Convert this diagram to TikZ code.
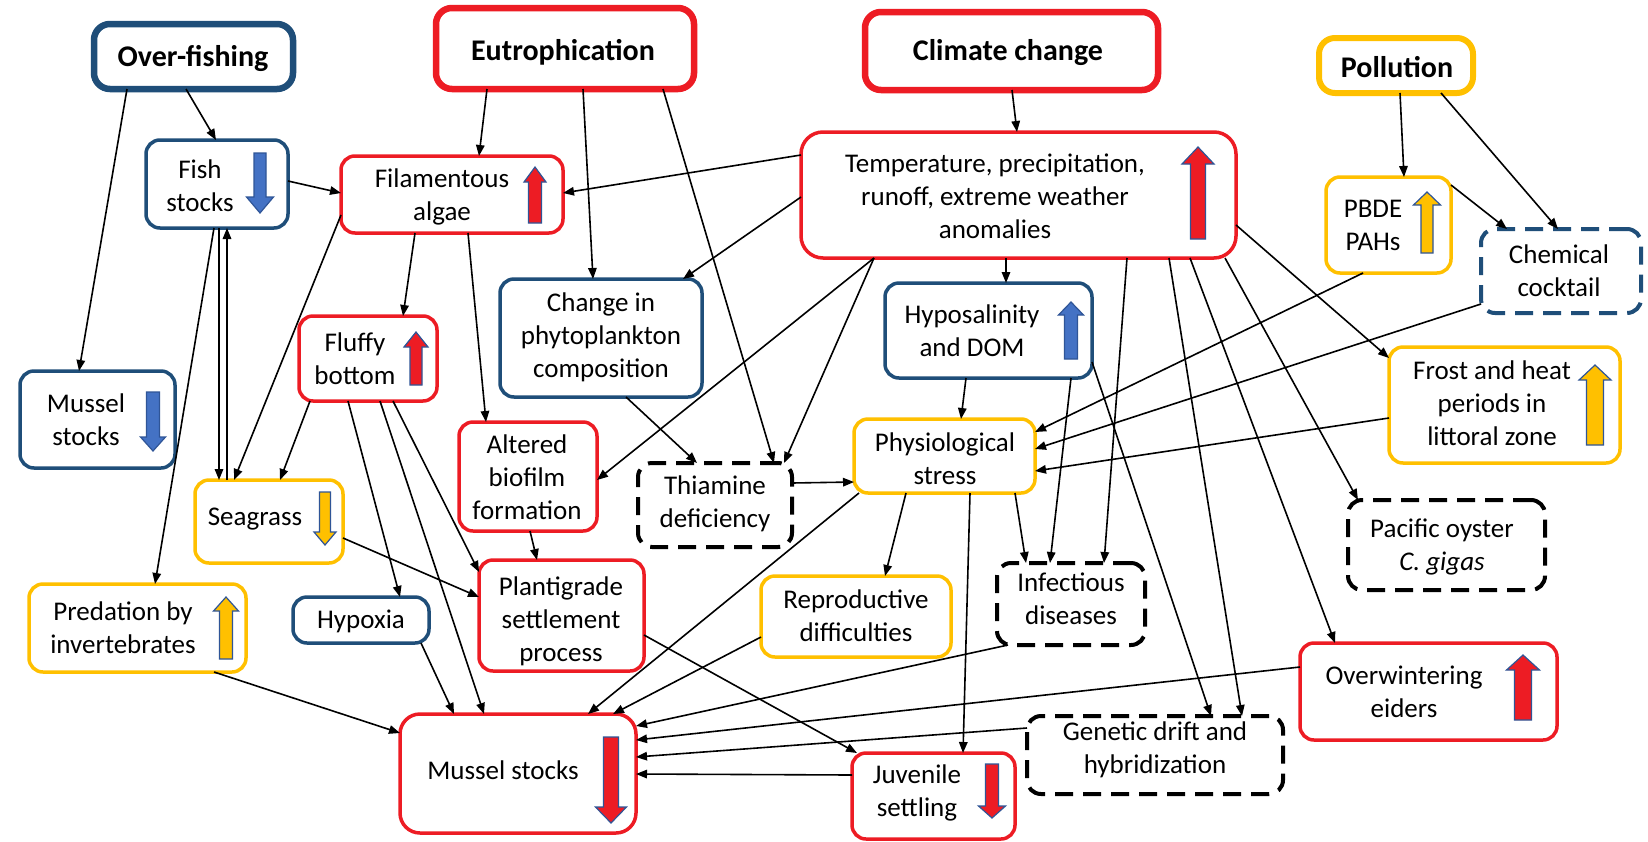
\documentclass[tikz,border=0pt]{standalone}
\usepackage{fontspec}
\setmainfont{Carlito}
\usetikzlibrary{arrows.meta}
\definecolor{ofblue}{RGB}{31,78,121}
\definecolor{ofred}{RGB}{237,28,36}
\definecolor{ofyellow}{RGB}{255,192,0}
\definecolor{arrblue}{RGB}{68,114,196}
\definecolor{arrline}{RGB}{47,85,151}
\tikzset{
 box/.style={rectangle, rounded corners=14pt, line width=3.5pt, inner sep=0pt, outer sep=0pt, fill=white},
 hdr/.style={line width=6.5pt, rounded corners=16pt},
 bluebox/.style={box, draw=ofblue},
 redbox/.style={box, draw=ofred},
 yelbox/.style={box, draw=ofyellow},
 dashbox/.style={box, draw=black, line width=4pt, dash pattern=on 18pt off 10pt},
 bdashbox/.style={box, draw=ofblue, line width=4pt, dash pattern=on 18pt off 10pt},
 txt/.style={align=center, font=\fontsize{27}{33}\selectfont, inner sep=0pt},
 htxt/.style={font=\fontsize{30}{36}\selectfont\bfseries, inner sep=0pt},
 conn/.style={-{Triangle[length=11pt,width=8.5pt]}, line width=1.6pt},
}
\newcommand{\mkbox}[6]{\node[#1, minimum width={#4-#2}, minimum height={#5-#3}] (#6) at ({(#2+#4)/2},{(#3+#5)/2}) {};}
\newcommand{\upArr}[7]{\filldraw[fill=#7,draw=arrline,line width=1.2pt] ({#1-#4},#3) -- ({#1-#4},{#2+#6}) -- ({#1-#5},{#2+#6}) -- (#1,#2) -- ({#1+#5},{#2+#6}) -- ({#1+#4},{#2+#6}) -- ({#1+#4},#3) -- cycle;}
\newcommand{\downArr}[7]{\filldraw[fill=#7,draw=arrline,line width=1.2pt] ({#1-#4},#2) -- ({#1-#4},{#3-#6}) -- ({#1-#5},{#3-#6}) -- (#1,#3) -- ({#1+#5},{#3-#6}) -- ({#1+#4},{#3-#6}) -- ({#1+#4},#2) -- cycle;}
\begin{document}
\begin{tikzpicture}[x=1pt,y=-1pt]
\useasboundingbox[fill=white] (0,0) rectangle (1648,841);
% boxes
\mkbox{bluebox,hdr}{94}{24}{293}{89}{OF}
\mkbox{redbox,hdr}{436}{8}{694}{89}{EU}
\mkbox{redbox,hdr}{865}{12}{1158}{90}{CC}
\mkbox{yelbox,hdr,line width=6pt}{1319}{38}{1473}{93}{PO}
\mkbox{bluebox}{146}{140}{288}{228}{FS}
\mkbox{redbox}{341}{156}{563}{233}{FA}
\mkbox{redbox,rounded corners=22pt}{801}{132}{1236}{258}{TP}
\mkbox{yelbox}{1326}{177}{1451}{273}{PB}
\mkbox{bdashbox}{1481}{229}{1641}{313}{CH}
\mkbox{bluebox}{500}{279}{702}{397}{CP}
\mkbox{bluebox}{885}{283}{1092}{378}{HD}
\mkbox{redbox}{299}{316}{437}{401}{FF}
\mkbox{bluebox}{20}{371}{175}{468}{MSa}
\mkbox{yelbox}{1389}{347}{1620}{463}{FH}
\mkbox{redbox}{459}{422}{597}{531}{AB}
\mkbox{dashbox}{638}{463}{792}{547}{TD}
\mkbox{yelbox}{854}{419}{1035}{493}{PS}
\mkbox{yelbox}{195}{480}{343}{563}{SG}
\mkbox{dashbox}{1348}{500}{1545}{590}{PO2}
\mkbox{yelbox}{29}{584}{246}{672}{PI}
\mkbox{bluebox}{293}{597}{429}{643}{HY}
\mkbox{redbox}{479}{560}{644}{671}{PL}
\mkbox{yelbox}{761}{576}{951}{657}{RD}
\mkbox{dashbox}{997}{563}{1145}{645}{ID}
\mkbox{redbox}{1300}{643}{1557}{740}{OE}
\mkbox{dashbox}{1027}{716}{1283}{794}{GD}
\mkbox{redbox,rounded corners=20pt}{400}{714}{636}{833}{MSb}
\mkbox{redbox}{852}{753}{1015}{839}{JS}
% connectors
\draw[conn] ([xshift=33pt]OF.south west) -- ([xshift=59pt]MSa.north west);
\draw[conn] ([xshift=92pt]OF.south west) -- ([xshift=70pt]FS.north west);
\draw[conn] ([yshift=-41pt]FS.north east) -- ([yshift=-37pt]FA.north west);
\draw[conn] ([xshift=68pt]FS.south west) -- ([xshift=126pt]PI.north west);
\draw[conn] ([xshift=73pt]FS.south west) -- ([xshift=24pt]SG.north west);
\draw[conn] ([xshift=32pt]SG.north west) -- ([xshift=81pt]FS.south west);
\draw[conn] ([yshift=-59pt]FA.north west) -- ([xshift=39pt]SG.north west);
\draw[conn] ([xshift=74pt]FA.south west) -- ([xshift=104pt]FF.north west);
\draw[conn] ([xshift=127pt]FA.south west) -- ([xshift=27pt]AB.north west);
\draw[conn] ([xshift=51pt]EU.south west) -- ([xshift=138pt]FA.north west);
\draw[conn] ([xshift=147pt]EU.south west) -- ([xshift=93pt]CP.north west);
\draw[conn] ([xshift=227pt]EU.south west) -- ([xshift=136pt]TD.north west);
\draw[conn] ([yshift=-23pt]TP.north west) -- ([yshift=-37pt]FA.north east);
\draw[conn] ([yshift=-65pt]TP.north west) -- ([xshift=183pt]CP.north west);
\draw[conn] ([xshift=147pt]CC.south west) -- ([xshift=216pt]TP.north west);
\draw[conn] ([xshift=205pt]TP.south west) -- ([xshift=121pt]HD.north west);
\draw[conn] ([xshift=73pt]TP.south west) -- ([yshift=-58pt]AB.north east);
\draw[conn] ([xshift=73pt]TP.south west) -- ([xshift=146pt]TD.north west);
\draw[conn] ([xshift=37pt]PB.south west) -- ([yshift=-13pt]PS.north east);
\draw[conn] ([yshift=-75pt]CH.north west) -- ([yshift=-30pt]PS.north east);
\draw[conn] ([yshift=-71pt]FH.north west) -- ([yshift=-52pt]PS.north east);
\draw[conn] ([xshift=81pt]HD.south west) -- ([xshift=107pt]PS.north west);
\draw[conn] ([xshift=186pt]HD.south west) -- ([xshift=53pt]ID.north west);
\draw[conn] ([yshift=-79pt]HD.north east) -- ([xshift=184pt]GD.north west);
\draw[conn] ([xshift=326pt]TP.south west) -- ([xshift=107pt]ID.north west);
\draw[conn] ([xshift=368pt]TP.south west) -- ([xshift=215pt]GD.north west);
\draw[conn] ([xshift=389pt]TP.south west) -- ([xshift=35pt]OE.north west);
\draw[conn] ([xshift=424pt]TP.south west) -- ([xshift=10pt]PO2.north west);
\draw[conn] ([yshift=-93pt]TP.north east) -- ([yshift=-11pt]FH.north west);
\draw[conn] ([xshift=126pt]CP.south west) -- ([xshift=59pt]TD.north west);
\draw[conn] ([yshift=-20pt]TD.north east) -- ([yshift=-63pt]PS.north west);
\draw[conn] ([xshift=5pt]PS.south west) -- ([xshift=188pt]MSb.north west);
\draw[conn] ([yshift=-61pt]RD.north west) -- ([xshift=213pt]MSb.north west);
\draw[conn] ([xshift=52pt]PS.south west) -- ([xshift=124pt]RD.north west);
\draw[conn] ([xshift=116pt]PS.south west) -- ([xshift=111pt]JS.north west);
\draw[conn] ([xshift=161pt]PS.south west) -- ([xshift=29pt]ID.north west);
\draw[conn] ([xshift=11pt]ID.south west) -- ([yshift=-12pt]MSb.north east);
\draw[conn] ([yshift=-24pt]OE.north west) -- ([yshift=-26pt]MSb.north east);
\draw[conn] ([yshift=-12pt]GD.north west) -- ([yshift=-43pt]MSb.north east);
\draw[conn] ([yshift=-22pt]JS.north west) -- ([yshift=-60pt]MSb.north east);
\draw[conn] ([yshift=-75pt]PL.north east) -- ([xshift=5pt]JS.north west);
\draw[conn] ([xshift=71pt]AB.south west) -- ([xshift=58pt]PL.north west);
\draw[conn] ([yshift=-58pt]SG.north east) -- ([yshift=-37pt]PL.north west);
\draw[conn] ([xshift=11pt]FF.south west) -- ([xshift=85pt]SG.north west);
\draw[conn] ([xshift=49pt]FF.south west) -- ([xshift=107pt]HY.north west);
\draw[conn] ([xshift=81pt]FF.south west) -- ([xshift=84pt]MSb.north west);
\draw[conn] ([xshift=94pt]FF.south west) -- ([yshift=-12pt]PL.north west);
\draw[conn] ([xshift=128pt]HY.south west) -- ([xshift=54pt]MSb.north west);
\draw[conn] ([xshift=185pt]PI.south west) -- ([yshift=-19pt]MSb.north west);
\draw[conn] ([xshift=81pt]PO.south west) -- ([xshift=78pt]PB.north west);
\draw[conn] ([xshift=122pt]PO.south west) -- ([xshift=77pt]CH.north west);
\draw[conn] ([yshift=-8pt]PB.north east) -- ([xshift=26pt]CH.north west);
% texts
\node[htxt] (tOF) at (193,58) {Over-fishing};
\node[htxt] (tEU) at (563,52) {Eutrophication};
\node[htxt] (tCC) at (1008,53) {Climate change};
\node[htxt] (tPO) at (1397,67) {Pollution};
\node[txt] (tFS) at (200,186) {Fish\\stocks};
\node[txt] (tFA) at (442,197) {Filamentous\\algae};
\node[txt] (tTP) at (995,196) {Temperature, precipitation,\\runoff, extreme weather\\anomalies};
\node[txt] (tPB) at (1373,225) {PBDE\\PAHs};
\node[txt] (tCH) at (1559,271) {Chemical\\cocktail};
\node[txt] (tCP) at (601,337) {Change in\\phytoplankton\\composition};
\node[txt] (tHD) at (972,331) {Hyposalinity\\and DOM};
\node[txt] (tFF) at (355,359) {Fluffy\\bottom};
\node[txt] (tMSa) at (86,420) {Mussel\\stocks};
\node[txt] (tFH) at (1492,403) {Frost and heat\\periods in\\littoral zone};
\node[txt] (tAB) at (527,477) {Altered\\biofilm\\formation};
\node[txt] (tTD) at (715,504) {Thiamine\\deficiency};
\node[txt] (tPS) at (945,459) {Physiological\\stress};
\node[txt] (tSG) at (255,519) {Seagrass};
\node[txt] (tPO2) at (1442,547) {Pacific oyster\\\textit{C. gigas}};
\node[txt] (tPI) at (123,628) {Predation by\\invertebrates};
\node[txt] (tHY) at (361,621) {Hypoxia};
\node[txt] (tPL) at (561,621) {Plantigrade\\settlement\\process};
\node[txt] (tRD) at (856,616) {Reproductive\\difficulties};
\node[txt] (tID) at (1071,599) {Infectious\\diseases};
\node[txt] (tOE) at (1404,692) {Overwintering\\eiders};
\node[txt] (tGD) at (1155,750) {Genetic drift and\\hybridization};
\node[txt] (tMSb) at (503,770) {Mussel stocks};
\node[txt] (tJS) at (917,793) {Juvenile\\settling};
% block arrows
\downArr{260}{153}{213}{6}{13.5}{16}{arrblue}
\upArr{535}{167}{223}{6.5}{11}{15}{ofred}
\upArr{1198}{147}{239}{7.5}{16}{17}{ofred}
\upArr{1427}{192}{253}{6}{13.5}{13}{ofyellow}
\upArr{1071}{302}{359}{6.5}{12.5}{13}{arrblue}
\upArr{416}{332}{385}{6}{12}{15}{ofred}
\downArr{153}{392}{451}{6.5}{12.5}{14}{arrblue}
\upArr{1595}{365}{445}{8.5}{16}{15}{ofyellow}
\downArr{325}{492}{545}{5.5}{11}{13}{ofyellow}
\upArr{226}{597}{659}{6.5}{12.5}{14}{ofyellow}
\upArr{1523}{655}{720}{8.5}{16.5}{15}{ofred}
\downArr{611}{737}{823}{7.5}{15.5}{16}{ofred}
\downArr{992}{764}{818}{6.5}{13.5}{12}{ofred}
\end{tikzpicture}
\end{document}
